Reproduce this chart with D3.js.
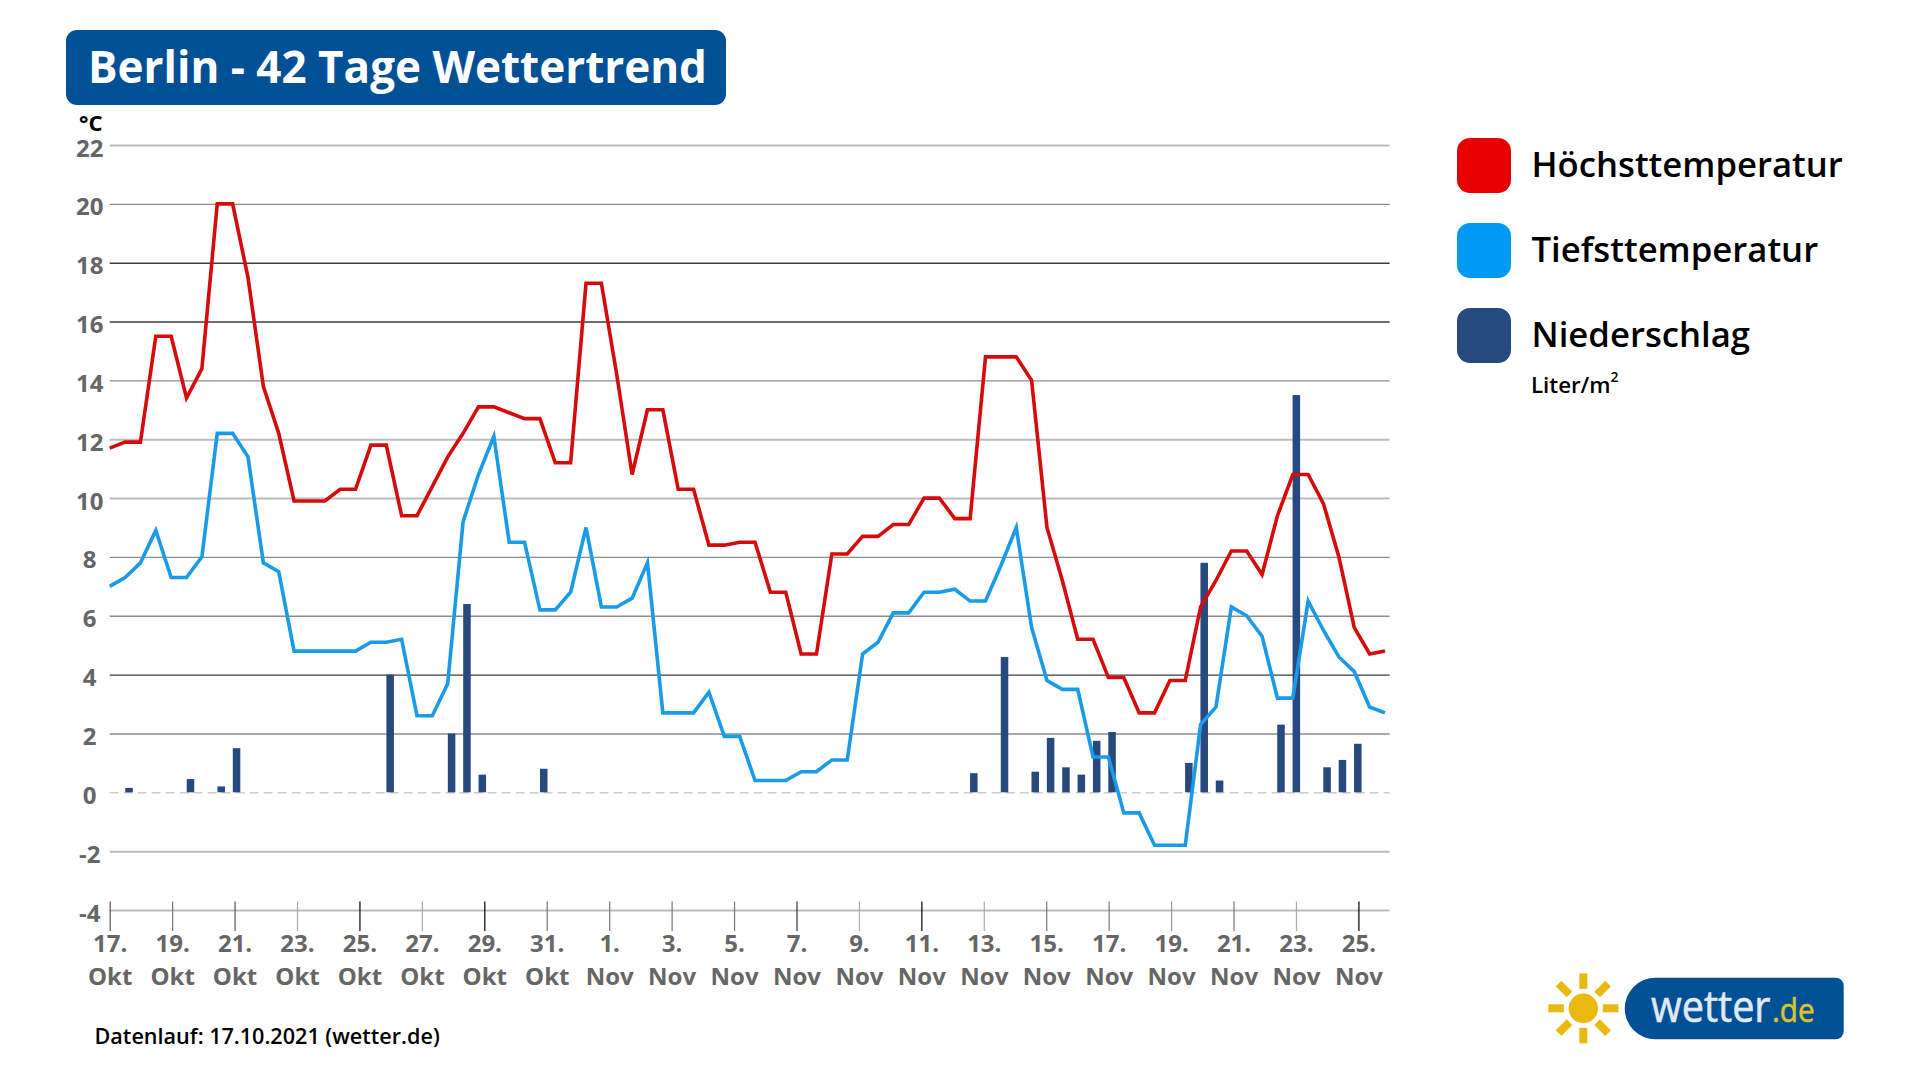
<!DOCTYPE html>
<html lang="de">
<head>
<meta charset="utf-8">
<title>Berlin - 42 Tage Wettertrend</title>
<script src="https://d3js.org/d3.v7.min.js"></script>
<style>
  html, body { margin: 0; padding: 0; background: #fff; }
  svg { display: block; }
  text { font-family: "Open Sans", sans-serif; }
</style>
</head>
<body>
<svg id="viz" width="1918" height="1079"></svg>
<script>
// --- 1. DATA ---
const TITLE = "Berlin - 42 Tage Wettertrend";
const SOURCE = "Datenlauf: 17.10.2021 (wetter.de)";
const LEGEND_LABELS = ["Höchsttemperatur", "Tiefsttemperatur", "Niederschlag"];

const tempTicks = [22, 20, 18, 16, 14, 12, 10, 8, 6, 4, 2, 0, -2, -4];
const dayLabels = ["17.", "19.", "21.", "23.", "25.", "27.", "29.", "31.", "1.", "3.", "5.", "7.", "9.", "11.", "13.", "15.", "17.", "19.", "21.", "23.", "25."];
const monthLabels = ["Okt", "Okt", "Okt", "Okt", "Okt", "Okt", "Okt", "Okt", "Nov", "Nov", "Nov", "Nov", "Nov", "Nov", "Nov", "Nov", "Nov", "Nov", "Nov", "Nov", "Nov"];

// two values per day, 42 days
const tempMax = [
  11.7, 11.9, 11.9, 15.5, 15.5, 13.4, 14.4, 20, 20, 17.5, 13.8, 12.2,
  9.9, 9.9, 9.9, 10.3, 10.3, 11.8, 11.8, 9.4, 9.4, 10.4, 11.4, 12.2,
  13.1, 13.1, 12.9, 12.7, 12.7, 11.2, 11.2, 17.3, 17.3, 14.2, 10.8, 13,
  13, 10.3, 10.3, 8.4, 8.4, 8.5, 8.5, 6.8, 6.8, 4.7, 4.7, 8.1,
  8.1, 8.7, 8.7, 9.1, 9.1, 10, 10, 9.3, 9.3, 14.8, 14.8, 14.8,
  14, 9, 7.2, 5.2, 5.2, 3.9, 3.9, 2.7, 2.7, 3.8, 3.8, 6.3,
  7.2, 8.2, 8.2, 7.4, 9.4, 10.8, 10.8, 9.8, 8, 5.6, 4.7, 4.8
];
const tempMin = [
  7, 7.3, 7.8, 8.9, 7.3, 7.3, 8, 12.2, 12.2, 11.4, 7.8, 7.5,
  4.8, 4.8, 4.8, 4.8, 4.8, 5.1, 5.1, 5.2, 2.6, 2.6, 3.7, 9.2,
  10.8, 12.1, 8.5, 8.5, 6.2, 6.2, 6.8, 9, 6.3, 6.3, 6.6, 7.8,
  2.7, 2.7, 2.7, 3.4, 1.9, 1.9, 0.4, 0.4, 0.4, 0.7, 0.7, 1.1,
  1.1, 4.7, 5.1, 6.1, 6.1, 6.8, 6.8, 6.9, 6.5, 6.5, 7.7, 9,
  5.6, 3.8, 3.5, 3.5, 1.2, 1.2, -0.7, -0.7, -1.8, -1.8, -1.8, 2.3,
  2.9, 6.3, 6, 5.3, 3.2, 3.2, 6.5, 5.5, 4.6, 4.1, 2.9, 2.7
];
const rain = [
  0, 0.15, 0, 0, 0, 0.45, 0, 0.2, 1.5, 0, 0, 0,
  0, 0, 0, 0, 0, 0, 4, 0, 0, 0, 2, 6.4,
  0.6, 0, 0, 0, 0.8, 0, 0, 0, 0, 0, 0, 0,
  0, 0, 0, 0, 0, 0, 0, 0, 0, 0, 0, 0,
  0, 0, 0, 0, 0, 0, 0, 0, 0.65, 0, 4.6, 0,
  0.7, 1.85, 0.85, 0.6, 1.75, 2.05, 0, 0, 0, 0, 1, 7.8,
  0.4, 0, 0, 0, 2.3, 13.5, 0, 0.85, 1.1, 1.65, 0, 0
];

// --- 2. STYLE ---
const COLORS = {
  brand: "#005096",
  high: "#d60b0b",
  low: "#1a9be8",
  rain: "#27497d",
  axisText: "#666666",
  sun: "#e8b90e",
  logoText: "#e0e9f3",
  logoDe: "#d9c32c"
};
const LEGEND_COLORS = ["#e60000", "#0099f5", "#254a80"];
// the rules and ticks do not all print with the same weight
const GRID_SHADES = ["#bbb", "#8c8c8c", "#3c3c3c", "#3c3c3c", "#8c8c8c", "#bbb", "#bbb", "#8c8c8c", "#8c8c8c", "#3c3c3c", "#8c8c8c", "#ccc", "#bbb", "#bbb"];
const TICK_SHADES = ["#555", "#777", "#555", "#aaa", "#000", "#aaa", "#000", "#777", "#777", "#777", "#777", "#333", "#aaa", "#000", "#aaa", "#777", "#777", "#999", "#777", "#aaa", "#000"];

// --- 3. SCALES ---
const svg = d3.select("#viz");
const PLOT = { left: 109.7, right: 1389.6, top: 145, bottom: 910 };

const y = d3.scaleLinear().domain([-4, 22]).range([PLOT.bottom, PLOT.top]);
const x = d3.scaleLinear().domain([0, tempMax.length - 1]).range([PLOT.left, 1385]);
const xBar = d3.scaleBand()
  .domain(d3.range(rain.length))
  .range([106, 1396.2])
  .paddingInner(0.51)
  .paddingOuter(0.255);
const xTick = d3.scalePoint().domain(d3.range(dayLabels.length)).range([PLOT.left, 1358.4]);

// --- 4. TITLE ---
svg.append("rect")
  .attr("x", 66).attr("y", 30).attr("width", 660).attr("height", 75).attr("rx", 11)
  .attr("fill", COLORS.brand);
svg.append("text")
  .attr("x", 88).attr("y", 83)
  .attr("font-size", 44).attr("font-weight", 700).attr("fill", "#fff")
  .text(TITLE);

// --- 5. AXES ---
const yAxis = svg.append("g")
  .attr("transform", `translate(${PLOT.left},0)`)
  .call(d3.axisLeft(y).tickValues(tempTicks).tickSize(-(PLOT.right - PLOT.left)).tickPadding(0).tickFormat(String));
yAxis.select(".domain").remove();
yAxis.selectAll(".tick line")
  .attr("stroke", (d, i) => GRID_SHADES[i])
  .attr("stroke-width", (d, i) => GRID_SHADES[i] === "#bbb" ? 2 : 1.4)
  .attr("stroke-dasharray", d => d === 0 ? "9 5" : null);
yAxis.selectAll(".tick text")
  .attr("x", -20).attr("dy", null).attr("y", 11)
  .attr("text-anchor", "middle")
  .attr("font-family", '"Open Sans", sans-serif')
  .attr("font-size", 24).attr("font-weight", 700)
  .attr("fill", COLORS.axisText);

svg.append("text")
  .attr("x", 79).attr("y", 131)
  .attr("font-size", 22).attr("font-weight", 700).attr("fill", "#000")
  .text("°C");

const xAxis = svg.append("g")
  .attr("transform", "translate(0,901.6)")
  .call(d3.axisBottom(xTick).tickSize(29.4).tickFormat(""));
xAxis.select(".domain").remove();
xAxis.selectAll(".tick line")
  .attr("stroke", (d, i) => TICK_SHADES[i])
  .attr("stroke-width", 1.2);
xAxis.selectAll(".tick text").each(function (d) {
  const label = d3.select(this)
    .attr("y", null).attr("dy", null)
    .attr("text-anchor", "middle")
    .attr("font-family", '"Open Sans", sans-serif')
    .attr("font-size", 24).attr("font-weight", 700)
    .attr("fill", COLORS.axisText);
  label.append("tspan").attr("x", 0).attr("y", 50.9).text(dayLabels[d]);
  label.append("tspan").attr("x", 0).attr("y", 83.4).text(monthLabels[d]);
});

// --- 6. MARKS ---
svg.append("g").selectAll("rect")
  .data(rain)
  .join("rect")
  .attr("x", (d, i) => xBar(i))
  .attr("width", xBar.bandwidth())
  .attr("y", d => y(d))
  .attr("height", d => y(0) - y(d))
  .attr("fill", COLORS.rain);

const line = d3.line().x((d, i) => x(i)).y(d => y(d));
[[tempMin, COLORS.low], [tempMax, COLORS.high]].forEach(([values, color]) => {
  svg.append("path")
    .attr("d", line(values))
    .attr("fill", "none")
    .attr("stroke", color)
    .attr("stroke-width", 3.6);
});

// --- 7. LEGEND ---
const legendY = d3.scalePoint().domain(LEGEND_LABELS).range([138, 308]);
const legend = svg.append("g").selectAll("g")
  .data(LEGEND_LABELS)
  .join("g")
  .attr("transform", d => `translate(1457,${legendY(d)})`);
legend.append("rect")
  .attr("width", 54).attr("height", 55).attr("rx", 13)
  .attr("fill", (d, i) => LEGEND_COLORS[i]);
legend.append("text")
  .attr("x", 74.5).attr("y", 38.7)
  .attr("font-size", 34.7).attr("font-weight", 600).attr("fill", "#000")
  .text(d => d);

const unit = svg.append("text")
  .attr("x", 1531).attr("y", 393)
  .attr("font-size", 22.3).attr("font-weight", 600).attr("fill", "#000");
unit.append("tspan").text("Liter/m");
unit.append("tspan").attr("font-size", 14).attr("dy", -11).text("2");

svg.append("text")
  .attr("x", 94.5).attr("y", 1043.6)
  .attr("font-size", 21.6).attr("font-weight", 600).attr("fill", "#000")
  .text(SOURCE);

// --- 8. LOGO ---
const logo = svg.append("g");
const sun = logo.append("g").attr("transform", "translate(1583.3,1008.3)");
sun.append("circle").attr("r", 14.7).attr("fill", COLORS.sun);
sun.selectAll("rect")
  .data(d3.range(8))
  .join("rect")
  .attr("x", -4).attr("y", -35).attr("width", 8).attr("height", 15.5)
  .attr("transform", d => `rotate(${d * 45})`)
  .attr("fill", COLORS.sun);
logo.append("path")
  .attr("d", "M1655.5,977.7H1835.7a8,8 0 0 1 8,8V1031.3a8,8 0 0 1 -8,8H1655.5a30.8,30.8 0 0 1 0,-61.6Z")
  .attr("fill", COLORS.brand);
logo.append("text")
  .attr("transform", "translate(1651,1022) scale(0.9,1)")
  .attr("font-family", 'Lato, "Open Sans", sans-serif')
  .attr("font-size", 44).attr("fill", COLORS.logoText)
  .attr("stroke", COLORS.logoText).attr("stroke-width", 0.6)
  .text("wetter");
logo.append("text")
  .attr("transform", "translate(1772,1022) scale(0.9,1)")
  .attr("font-family", 'Lato, "Open Sans", sans-serif')
  .attr("font-size", 33).attr("fill", COLORS.logoDe)
  .attr("stroke", COLORS.logoDe).attr("stroke-width", 0.6)
  .text(".de");
</script>
</body>
</html>
